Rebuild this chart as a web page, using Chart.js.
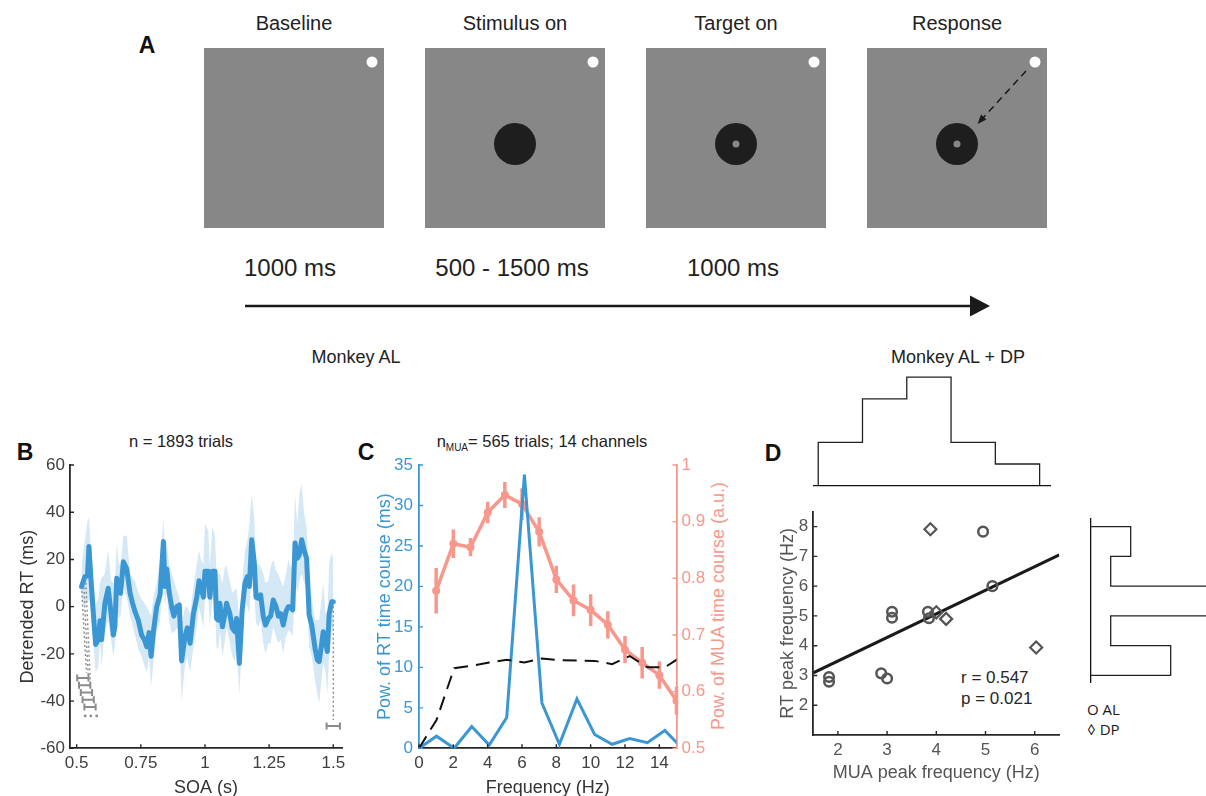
<!DOCTYPE html>
<html lang="en">
<head>
<meta charset="utf-8">
<title>RT and MUA rhythmicity</title>
<script src="https://cdn.jsdelivr.net/npm/chart.js@4.4.1/dist/chart.umd.min.js"></script>
<style>
  html, body { margin:0; padding:0; background:#fff; }
  body { position:relative; width:1206px; height:796px; overflow:hidden;
         font-family:"Liberation Sans", Arial, Helvetica, sans-serif; color:#222; }
  canvas { position:absolute; }
  .lbl { position:absolute; white-space:nowrap; transform:translate(-50%,-50%); line-height:1; }
  .lft { transform:translate(0,-50%); }
  .panel { font-weight:bold; font-size:23px; color:#111; }
</style>
</head>
<body>

<!-- Panel A: trial schematic -->
<svg width="1206" height="330" style="position:absolute;left:0;top:0">
  <g fill="#878787">
    <rect x="204" y="48" width="180" height="180"/>
    <rect x="425" y="48" width="180" height="180"/>
    <rect x="646" y="48" width="180" height="180"/>
    <rect x="867" y="48" width="180" height="180"/>
  </g>
  <g fill="#ffffff">
    <circle cx="372" cy="62" r="5.5"/>
    <circle cx="593" cy="62" r="5.5"/>
    <circle cx="814" cy="62" r="5.5"/>
    <circle cx="1035" cy="62" r="5.5"/>
  </g>
  <g fill="#1e1e1e">
    <circle cx="515" cy="144" r="21"/>
    <circle cx="736" cy="144" r="21"/>
    <circle cx="957" cy="144" r="21"/>
  </g>
  <g fill="#878787">
    <circle cx="736" cy="144" r="3.5"/>
    <circle cx="957" cy="144" r="3.5"/>
  </g>
  <line x1="1026" y1="71" x2="983" y2="118" stroke="#1a1a1a" stroke-width="1.5" stroke-dasharray="7,5"/>
  <path d="M977.5,124 L986.4,119.6 L981,114.6 Z" fill="#1a1a1a"/>
  <line x1="245" y1="306" x2="972" y2="306" stroke="#1a1a1a" stroke-width="2.6"/>
  <path d="M970,295.5 L990,306 L970,316.5 Z" fill="#1a1a1a"/>
</svg>

<div class="lbl panel" style="left:147px;top:45px">A</div>
<div class="lbl" style="left:294px;top:23px;font-size:20px">Baseline</div>
<div class="lbl" style="left:515px;top:23px;font-size:20px">Stimulus on</div>
<div class="lbl" style="left:736px;top:23px;font-size:20px">Target on</div>
<div class="lbl" style="left:957px;top:23px;font-size:20px">Response</div>
<div class="lbl" style="left:290px;top:268px;font-size:24px">1000 ms</div>
<div class="lbl" style="left:512px;top:268px;font-size:24px">500 - 1500 ms</div>
<div class="lbl" style="left:733px;top:268px;font-size:24px">1000 ms</div>
<div class="lbl" style="left:356px;top:357px;font-size:18px">Monkey AL</div>
<div class="lbl" style="left:958px;top:357px;font-size:18px">Monkey AL + DP</div>

<!-- Panel letters and titles -->
<div class="lbl panel" style="left:25px;top:452px">B</div>
<div class="lbl panel" style="left:366px;top:452px">C</div>
<div class="lbl panel" style="left:773px;top:453px">D</div>
<div class="lbl" style="left:181px;top:441px;font-size:16.5px">n = 1893 trials</div>
<div class="lbl" style="left:542px;top:441px;font-size:16.5px">n<span style="font-size:10px;position:relative;top:4px">MUA</span>= 565 trials; 14 channels</div>
<div class="lbl" style="left:718px;top:606px;font-size:18px;color:#f8978b;transform:translate(-50%,-50%) rotate(-90deg)">Pow. of MUA time course (a.u.)</div>

<!-- Panel D annotations -->
<div class="lbl lft" style="left:961px;top:677px;font-size:17px;color:#262626">r = 0.547</div>
<div class="lbl lft" style="left:961px;top:698px;font-size:17px;color:#262626">p = 0.021</div>
<div class="lbl lft" style="left:1087px;top:709px;font-size:15px;color:#1a1a1a;font-family:'Open Sans',sans-serif">O AL</div>
<div class="lbl lft" style="left:1087px;top:729px;font-size:15px;color:#1a1a1a;font-family:'Open Sans','DejaVu Sans',sans-serif">&#9674; DP</div>

<canvas id="cB"></canvas>
<canvas id="cC"></canvas>
<canvas id="cD"></canvas>
<canvas id="cH1"></canvas>
<canvas id="cH2"></canvas>

<script>
// ---------- Panel B: detrended reaction time as a function of SOA ----------
const soaTime = [
  0.519,0.532,0.542,0.548,0.555,0.565,0.574,0.584,0.591,0.597,
  0.610,0.623,0.634,0.643,0.649,0.656,0.665,0.671,0.682,0.695,
  0.708,0.718,0.727,0.740,0.753,0.764,0.773,0.782,0.790,0.799,
  0.812,0.825,0.838,0.844,0.851,0.860,0.870,0.879,0.890,0.900,
  0.909,0.922,0.931,0.942,0.955,0.968,0.977,0.984,0.994,1.000,
  1.013,1.019,1.029,1.039,1.045,1.052,1.058,1.068,1.078,1.084,
  1.097,1.106,1.117,1.123,1.134,1.145,1.156,1.165,1.173,1.182,
  1.192,1.199,1.208,1.217,1.227,1.236,1.247,1.256,1.266,1.277,
  1.286,1.295,1.305,1.316,1.325,1.334,1.342,1.351,1.360,1.368,
  1.377,1.386,1.396,1.406,1.416,1.429,1.438,1.445,1.455,1.461,
  1.470,1.477,1.484,1.494,1.500];
const rtMean = [
  8.5,12.7,13,25.5,12.7,-3,-16,-14,-6,-14,
  1.4,7.8,-3,-12,-8.5,12,8.5,5.7,19,16,
  5.7,1.4,-2,-5.7,-12,-14,-17,-11,-21,-10.6,
  0,5,27.6,8.5,16,6.4,0,-4,0,0.7,
  -23,-12.7,-9,-15.5,-3,4,11,8,4,15,
  15,4,15,15,-5,-5.7,1.4,-8.5,-3,1.4,
  -3,-9,-10.6,-5,-24,-1.4,10,12.7,8.5,28.3,
  19,4,3.5,5,-4,-7.8,-5,-4,2.8,0,
  -4,-3,-7.8,-2,0,0,-1.4,27,20.5,22,
  28.3,24,20.5,-3.5,-7.8,-17.7,-22.6,-23.3,-15.5,-10.6,
  -15.5,-19,-3,2.1,2.1];
const rtUpper = [
  17,28,36,38,24,11,1,3,10,12,
  14,24,11,10,10,27,18,18,30,30,
  14,12,11,6,3,1.4,0,-2,-4,4,
  10,20,37,24,28,18,14,11,7,4,
  -8.5,0,0,-3,8.5,18,24,20,18,35,
  32,17,34,30,13,14,14,10,17,17,
  11,6,7,8,-5.7,11,24,28,35,48,
  38,18,18,17,14,10,11,17,20,15,
  14,11,8.5,14,20,17,17,47,35,48,
  52,40,34,11,4,-5.7,-5.7,-5.7,4,10,
  -3,-3,18,23,20];
const rtLower = [
  3,0,2,3,0,-15.5,-28,-25,-15,-25,
  -10,-6,-14,-21,-17,0,-5,-4,8.5,4,
  -4,-8,-12,-18,-21,-25,-28,-21,-34,-24,
  -11,-6,14,0,6,-6,-11,-11,-9,-11,
  -40,-25,-21,-28,-17,-8.5,0,-4,-8.5,4,
  4,-8.5,4,1.4,-17,-18,-10,-21,-14,-8.5,
  -15,-21,-23,-17,-37,-14,1.4,0,-3,17,
  5.7,-7,-8.5,-6,-15.5,-20,-15.5,-15.5,-8.5,-12.7,
  -15.5,-14,-20,-12.7,-10,-11,-12.7,11,5.7,11,
  14,10,8.5,-17,-21,-31,-37,-41,-30,-24,
  -28,-37,-20,-11,-8.5];
const soaTicks = [0.5, 0.75, 1, 1.25, 1.5];
const rtTicks = [-60, -40, -20, 0, 20, 40, 60];
// analysis-window markers (horizontal bars) and their dotted guides
const windowSoa  = [0.524, 0.531, 0.538, 0.545, 0.552, 1.5];
const windowRt   = [-30.2, -33.3, -36.4, -39.4, -42.5, -50.6];
const windowHalf = [0.022, 0.022, 0.022, 0.022, 0.022, 0.026];
const moreSoa = [0.533, 0.555, 0.578];
const moreRt  = [-46.3, -46.3, -46.3];
const guideSoaFrom = [0.519, 0.527, 0.535, 1.5];
const guideRtFrom  = [8.5, 10, 12, 2.1];
const guideSoaTo   = [0.538, 0.546, 0.554, 1.5];
const guideRtTo    = [-28, -31, -34, -48];

// ---------- Panel C: spectra of RT and MUA time courses ----------
const rtFreq = [0, 1.02, 2.05, 3.07, 4.09, 5.11, 6.14, 7.16, 8.18, 9.2, 10.23, 11.25, 12.27, 13.3, 14.32, 15.34];
const rtPower = [0, 1.5, 0, 2.7, 0.4, 3.8, 33.8, 5.6, 0.5, 6.1, 1.7, 0.5, 1.2, 0.7, 2.2, 0];
const rtThreshold = [0, 3.5, 9.9, 10.2, 10.6, 10.95, 10.6, 11.1, 10.9, 10.85, 10.8, 10.4, 11.4, 10.0, 10.0, 11.4];
const muaFreq = [1, 2, 3, 4, 5, 6, 7, 8, 9, 10, 11, 12, 13, 14, 15];
const muaPower = [0.778, 0.861, 0.855, 0.916, 0.947, 0.931, 0.882, 0.798, 0.761, 0.744, 0.718, 0.674, 0.651, 0.629, 0.584];
const muaSem = [0.04, 0.025, 0.016, 0.019, 0.023, 0.028, 0.026, 0.024, 0.028, 0.028, 0.024, 0.024, 0.028, 0.024, 0.025];
const freqTicks = [0, 2, 4, 6, 8, 10, 12, 14];
const rtPowTicks = [0, 5, 10, 15, 20, 25, 30, 35];
const muaPowTicks = [0.5, 0.6, 0.7, 0.8, 0.9, 1];

// ---------- Panel D: MUA vs RT peak frequency ----------
const alMuaPeak = [1.82, 1.82, 2.88, 3.0, 3.1, 3.1, 3.83, 3.85, 4.95, 5.14];
const alRtPeak  = [2.95, 2.79, 3.07, 2.9, 5.14, 4.94, 5.14, 4.92, 7.83, 6.0];
const dpMuaPeak = [3.88, 4.0, 4.2, 6.03];
const dpRtPeak  = [7.91, 5.12, 4.9, 3.94];
const fitMua = [1.5, 6.5];
const fitRt  = [3.09, 7.05];
const muaPeakTicks = [2, 3, 4, 5, 6];
const rtPeakTicks = [2, 3, 4, 5, 6, 7, 8];
const muaHistEdges = [1.6, 2.5, 3.4, 4.3, 5.2, 6.1];
const muaHistCounts = [2, 4, 5, 2, 1];
const rtHistEdges = [8, 7, 6, 5, 4, 3];
const rtHistCounts = [2, 1, 6, 1, 4];

// ---------- styling ----------
const AXIS = '#262626', TXT = '#404040', BLUE = '#3a97d3', SALMON = '#f8978b',
      BAND = '#d5e8f5', GREY = '#8c8c8c', DGREY = '#555555';
Chart.defaults.font.family = '"Liberation Sans", Arial, Helvetica, sans-serif';
Chart.defaults.color = TXT;

function mount(id, r) {
  const c = document.getElementById(id);
  const w = r[2] - r[0], h = r[3] - r[1];
  c.width = w; c.height = h;
  Object.assign(c.style, {left: r[0] + 'px', top: r[1] + 'px', width: w + 'px', height: h + 'px'});
  return c;
}
const pts = (xs, ys) => xs.map((x, i) => ({x, y: ys[i]}));

function columnOutline(edges, counts) {
  const out = [{x: edges[0], y: 0}];
  counts.forEach((c, i) => out.push({x: edges[i], y: c}, {x: edges[i + 1], y: c}));
  out.push({x: edges[edges.length - 1], y: 0});
  return out;
}
function rowOutline(edges, counts) {
  const out = [{x: 0, y: edges[0]}];
  counts.forEach((c, i) => out.push({x: c, y: edges[i]}, {x: c, y: edges[i + 1]}));
  out.push({x: 0, y: edges[edges.length - 1]});
  return out;
}

function axis(o) {
  const a = {
    type: 'linear', position: o.position, min: o.min, max: o.max,
    afterFit: s => { if (s.isHorizontal()) s.height = o.fit; else s.width = o.fit; },
    grid: {display: false, drawTicks: false},
    border: {display: true, color: o.color || AXIS, width: o.lineWidth || 1.8},
    ticks: {display: o.labels !== false, color: o.labelColor || TXT, font: {size: 17},
            padding: o.pad ?? 5, maxRotation: 0, minRotation: 0, autoSkip: false,
            callback: v => String(v)},
    title: o.title
      ? {display: true, text: o.title, color: o.titleColor || AXIS, font: {size: 18}, padding: o.titlePad}
      : {display: false}
  };
  if (o.ticks) a.afterBuildTicks = s => { s.ticks = o.ticks.map(v => ({value: v})); };
  return a;
}

function baseOptions(padding, scales) {
  return {
    responsive: false, maintainAspectRatio: false, animation: false, events: [],
    layout: {padding, autoPadding: false},
    plugins: {legend: {display: false}, tooltip: {enabled: false}, title: {display: false}},
    elements: {line: {tension: 0}},
    scales
  };
}

// short tick marks drawn inside the plot frame
function inwardTicks(spec) {
  return {
    id: 'inwardTicks',
    afterDraw(chart) {
      const {ctx, chartArea: a} = chart;
      Object.keys(spec).forEach(key => {
        const s = chart.scales[key], st = spec[key];
        ctx.save();
        ctx.strokeStyle = st.color; ctx.lineWidth = 1.4;
        ctx.beginPath();
        s.ticks.forEach(t => {
          const p = s.getPixelForValue(t.value);
          if (s.isHorizontal()) { ctx.moveTo(p, a.bottom); ctx.lineTo(p, a.bottom - st.len); }
          else if (s.position === 'right') { ctx.moveTo(a.right, p); ctx.lineTo(a.right - st.len, p); }
          else { ctx.moveTo(a.left, p); ctx.lineTo(a.left + st.len, p); }
        });
        ctx.stroke();
        ctx.restore();
      });
    }
  };
}

// grey window bars, dots and dotted guides in panel B
const windowMarkers = {
  id: 'windowMarkers',
  afterDatasetsDraw(chart) {
    const {ctx, scales: {x, y}} = chart;
    ctx.save();
    ctx.strokeStyle = GREY; ctx.fillStyle = GREY;
    ctx.lineWidth = 1.4; ctx.setLineDash([2, 2.5]);
    ctx.beginPath();
    guideSoaFrom.forEach((s, i) => {
      ctx.moveTo(x.getPixelForValue(s), y.getPixelForValue(guideRtFrom[i]));
      ctx.lineTo(x.getPixelForValue(guideSoaTo[i]), y.getPixelForValue(guideRtTo[i]));
    });
    ctx.stroke();
    ctx.setLineDash([]);
    ctx.lineWidth = 2;
    ctx.beginPath();
    windowSoa.forEach((s, i) => {
      const x0 = x.getPixelForValue(s - windowHalf[i]), x1 = x.getPixelForValue(s + windowHalf[i]);
      const py = y.getPixelForValue(windowRt[i]);
      ctx.moveTo(x0, py); ctx.lineTo(x1, py);
      ctx.moveTo(x0, py - 3.5); ctx.lineTo(x0, py + 3.5);
      ctx.moveTo(x1, py - 3.5); ctx.lineTo(x1, py + 3.5);
    });
    ctx.stroke();
    moreSoa.forEach((s, i) => {
      ctx.beginPath();
      ctx.arc(x.getPixelForValue(s), y.getPixelForValue(moreRt[i]), 1.4, 0, Math.PI * 2);
      ctx.fill();
    });
    ctx.restore();
  }
};

// vertical SEM bars on the MUA spectrum
const muaErrorBars = {
  id: 'muaErrorBars',
  beforeDatasetsDraw(chart) {
    const {ctx, scales: {x, y2}} = chart;
    ctx.save();
    ctx.strokeStyle = SALMON; ctx.lineWidth = 3.5;
    ctx.beginPath();
    muaFreq.forEach((f, i) => {
      const px = x.getPixelForValue(f);
      ctx.moveTo(px, y2.getPixelForValue(muaPower[i] - muaSem[i]));
      ctx.lineTo(px, y2.getPixelForValue(muaPower[i] + muaSem[i]));
    });
    ctx.stroke();
    ctx.restore();
  }
};

// ---------- Panel B chart ----------
new Chart(mount('cB', [0, 430, 355, 800]), {
  type: 'line',
  data: {datasets: [
    {data: pts(soaTime, rtMean), borderColor: BLUE, borderWidth: 5, borderJoinStyle: 'round',
     borderCapStyle: 'round', pointRadius: 0, fill: false},
    {data: pts(soaTime, rtUpper), borderColor: 'rgba(0,0,0,0)', borderWidth: 0, pointRadius: 0,
     fill: '+1', backgroundColor: BAND},
    {data: pts(soaTime, rtLower), borderColor: 'rgba(0,0,0,0)', borderWidth: 0, pointRadius: 0, fill: false}
  ]},
  options: baseOptions({top: 35, right: 13, bottom: 0, left: 0}, {
    x: axis({position: 'bottom', min: 0.474, max: 1.534, ticks: soaTicks, fit: 51.7, pad: 4.5,
             title: 'SOA (s)', titleColor: '#333', titlePad: {top: 0, bottom: 1.2}}),
    y: axis({position: 'left', min: -60, max: 60, ticks: rtTicks, fit: 70,
             title: 'Detrended RT (ms)', titleColor: '#333', titlePad: {top: 17.2, bottom: 0}})
  }),
  plugins: [inwardTicks({x: {len: 4, color: AXIS}, y: {len: 4, color: AXIS}}), windowMarkers]
});

// ---------- Panel C chart ----------
new Chart(mount('cC', [360, 430, 745, 800]), {
  type: 'line',
  data: {datasets: [
    {data: pts(rtFreq, rtThreshold), yAxisID: 'y', borderColor: '#111', borderWidth: 2,
     borderDash: [14, 8], pointRadius: 0},
    {data: pts(rtFreq, rtPower), yAxisID: 'y', borderColor: BLUE, borderWidth: 3, pointRadius: 0},
    {data: pts(muaFreq, muaPower), yAxisID: 'y2', borderColor: SALMON, borderWidth: 3.5,
     pointRadius: 4, pointBackgroundColor: SALMON, pointBorderWidth: 0}
  ]},
  options: baseOptions({top: 35, right: 0, bottom: 0, left: 0}, {
    x: axis({position: 'bottom', min: 0, max: 15, ticks: freqTicks, fit: 51.7, pad: 4.5,
             title: 'Frequency (Hz)', titleColor: '#333', titlePad: {top: 0, bottom: 1.2}}),
    y: axis({position: 'left', min: 0, max: 35, ticks: rtPowTicks, fit: 59, color: BLUE,
             labelColor: BLUE, pad: 6, title: 'Pow. of RT time course (ms)', titleColor: BLUE,
             titlePad: {top: 14.2, bottom: 0}}),
    y2: axis({position: 'right', min: 0.5, max: 1, ticks: muaPowTicks, fit: 68.5, color: SALMON,
              labelColor: SALMON, pad: 5})
  }),
  plugins: [inwardTicks({x: {len: 4, color: AXIS}, y: {len: 4, color: BLUE}, y2: {len: 4, color: SALMON}}),
            muaErrorBars]
});

// ---------- Panel D scatter ----------
new Chart(mount('cD', [760, 495, 1075, 800]), {
  type: 'line',
  data: {datasets: [
    {data: pts(alMuaPeak, alRtPeak), showLine: false, pointStyle: 'circle', pointRadius: 4.8,
     pointBorderWidth: 2.5, pointBorderColor: DGREY, pointBackgroundColor: 'rgba(0,0,0,0)'},
    {data: pts(dpMuaPeak, dpRtPeak), showLine: false, pointStyle: 'rectRot', pointRadius: 6,
     pointBorderWidth: 2.2, pointBorderColor: DGREY, pointBackgroundColor: 'rgba(0,0,0,0)'},
    {data: pts(fitMua, fitRt), borderColor: '#1a1a1a', borderWidth: 3, pointRadius: 0}
  ]},
  options: baseOptions({top: 16.7, right: 15.7, bottom: 0, left: 0}, {
    x: axis({position: 'bottom', min: 1.5, max: 6.5, ticks: muaPeakTicks, fit: 65, pad: 4.8, labelColor: DGREY,
             title: 'MUA peak frequency (Hz)', titleColor: DGREY, titlePad: {top: 0, bottom: 16.2}}),
    y: axis({position: 'left', min: 1, max: 8.5, ticks: rtPeakTicks, fit: 53.3, labelColor: DGREY,
             title: 'RT peak frequency (Hz)', titleColor: DGREY, titlePad: {top: 17.2, bottom: 0}})
  }),
  plugins: [inwardTicks({x: {len: 4, color: AXIS}, y: {len: 4, color: AXIS}})]
});

// ---------- Panel D marginal histograms ----------
new Chart(mount('cH1', [800, 360, 1070, 495]), {
  type: 'line',
  data: {datasets: [{data: columnOutline(muaHistEdges, muaHistCounts), borderColor: '#222',
                     borderWidth: 1.3, pointRadius: 0}]},
  options: baseOptions({top: 10, right: 20, bottom: 0, left: 13.3}, {
    x: axis({position: 'bottom', min: 1.5, max: 6.311, fit: 9.3, labels: false, lineWidth: 1.3, color: '#111'}),
    y: {type: 'linear', display: false, min: 0, max: 5.33}
  })
});

new Chart(mount('cH2', [1080, 505, 1206, 695]), {
  type: 'line',
  data: {datasets: [{data: rowOutline(rtHistEdges, rtHistCounts), borderColor: '#222',
                     borderWidth: 1.3, pointRadius: 0}]},
  options: baseOptions({top: 14, right: 0, bottom: 12.3, left: 0}, {
    x: {type: 'linear', display: false, min: 0, max: 5.765},
    y: axis({position: 'left', min: 2.757, max: 8.256, fit: 10.7, labels: false, lineWidth: 1.3, color: '#111'})
  })
});
</script>
</body>
</html>
